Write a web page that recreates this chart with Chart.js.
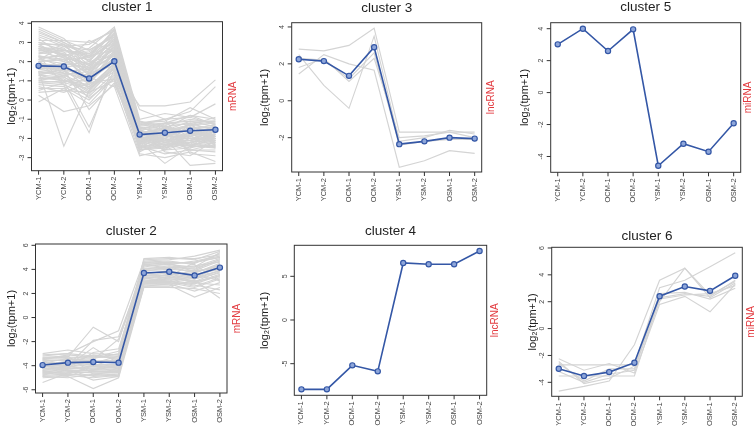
<!DOCTYPE html>
<html>
<head>
<meta charset="utf-8">
<script src="https://cdn.jsdelivr.net/npm/chart.js@4.4.1/dist/chart.umd.min.js"></script>
<style>
  html, body { margin: 0; padding: 0; background: #fff; }
  #app { position: relative; width: 754px; height: 426px; overflow: hidden; }
  #app canvas { position: absolute; left: 0; top: 0; }
</style>
</head>
<body>
<div id="app"></div>
<script>
// samples on the x axis
const samples = ["YCM-1", "YCM-2", "OCM-1", "OCM-2", "YSM-1", "YSM-2", "OSM-1", "OSM-2"];

// cluster means (blue line)
const cluster1Mean = [1.78, 1.75, 1.12, 2.02, -1.8, -1.7, -1.6, -1.55];
const cluster2Mean = [-3.95, -3.75, -3.7, -3.75, 3.7, 3.8, 3.5, 4.15];
const cluster3Mean = [2.25, 2.15, 1.35, 2.9, -2.35, -2.2, -2.0, -2.05];
const cluster4Mean = [-7.94, -7.94, -5.19, -5.88, 6.53, 6.38, 6.38, 7.9];
const cluster5Mean = [3.02, 4.0, 2.6, 3.96, -4.58, -3.2, -3.7, -1.92];
const cluster6Mean = [-2.99, -3.53, -3.24, -2.54, 2.41, 3.13, 2.81, 3.93];

// member genes (grey lines)
const cluster1Genes = [
  [3.8, 3.2, 2.0, 3.7, -1.2, -1.3, -1.0, -1.2],
  [3.5, 3.0, 2.4, 3.5, -1.4, -1.5, -0.8, -1.0],
  [3.3, 2.8, 2.6, 3.3, -1.5, -1.2, -1.3, -1.5],
  [3.1, 3.1, 3.0, 3.6, -1.1, -1.6, -1.4, -1.7],
  [3.0, 2.6, 2.2, 3.0, -1.6, -1.8, -1.5, -1.3],
  [2.9, 2.9, 1.8, 3.2, -1.3, -1.4, -1.7, -1.9],
  [2.8, 2.5, 2.5, 3.4, -1.8, -2.0, -1.2, -1.6],
  [2.7, 2.7, 1.5, 2.8, -2.0, -1.7, -1.9, -1.4],
  [2.6, 2.4, 2.1, 3.1, -1.7, -1.9, -2.0, -2.1],
  [2.5, 2.2, 1.9, 2.9, -1.9, -2.2, -1.8, -1.8],
  [2.4, 2.6, 2.3, 2.6, -2.2, -1.6, -1.6, -2.0],
  [2.3, 2.0, 1.6, 2.7, -2.1, -2.3, -2.1, -1.6],
  [2.2, 2.3, 1.3, 3.0, -2.3, -2.1, -2.3, -2.2],
  [2.1, 1.9, 1.7, 2.5, -1.6, -2.4, -2.2, -1.9],
  [2.0, 2.1, 1.4, 2.4, -2.4, -2.0, -1.4, -2.3],
  [1.9, 1.8, 2.0, 2.3, -1.4, -1.8, -2.4, -2.4],
  [1.8, 1.6, 1.2, 2.2, -2.5, -2.5, -2.0, -2.0],
  [1.7, 1.5, 0.9, 2.6, -2.0, -2.2, -2.5, -1.7],
  [1.6, 1.7, 1.0, 2.0, -2.6, -1.5, -1.7, -2.5],
  [1.5, 1.3, 0.7, 1.9, -1.9, -2.6, -2.2, -2.1],
  [1.4, 1.4, 1.1, 2.1, -2.2, -1.9, -1.5, -1.4],
  [1.3, 1.2, 0.5, 1.8, -2.4, -2.3, -2.6, -2.3],
  [1.2, 1.0, 0.8, 1.6, -1.5, -2.4, -1.9, -2.2],
  [1.1, 1.1, 0.3, 1.7, -2.3, -1.7, -2.3, -2.4],
  [1.0, 0.9, 0.6, 1.5, -2.6, -2.5, -1.8, -1.9],
  [0.9, 0.8, 0.2, 1.4, -2.1, -2.1, -2.4, -2.5],
  [0.8, 0.7, 0.0, 1.3, -1.7, -1.6, -1.1, -1.1],
  [0.6, 0.6, -0.2, 1.2, -2.5, -2.2, -2.1, -1.8],
  [0.4, 0.5, 0.4, 1.0, -2.0, -2.0, -2.6, -2.6],
  [0.25, -0.6, -0.3, 0.8, -1.8, -1.4, -2.0, -2.2],
  [-0.1, 0.6, 1.2, 0.7, -2.9, -2.6, -1.6, -2.0],
  [1.5, -2.4, 0.5, 1.9, -2.2, -3.3, -2.4, -1.6],
  [2.3, 0.8, -1.7, 2.0, -2.7, -2.0, -3.4, -3.3],
  [1.9, 1.0, -1.4, 1.6, -0.3, -0.3, -0.1, 1.05],
  [2.7, 2.0, 3.1, 2.5, -0.5, -1.0, -0.6, 0.7],
  [3.2, 2.3, 2.7, 3.8, -1.0, -0.7, -0.9, -0.2],
  [2.0, 1.4, 0.1, 1.1, -2.8, -3.0, -2.7, -3.2],
  [1.3, 1.6, -0.5, 0.9, -2.4, -2.8, -2.6, -2.7],
  [2.4, 2.9, 1.6, 3.5, -1.2, -1.1, -0.4, -1.0],
  [0.7, 0.4, 0.9, 1.1, -1.3, -1.0, -2.8, -2.9],
  [3.6, 3.0, 2.2, 3.7, -2.0, -1.8, -1.3, -0.9],
  [2.1, 2.4, 1.8, 2.9, -1.5, -2.7, -2.9, -2.1],
  [1.6, 1.9, 2.3, 3.2, -2.3, -1.2, -0.8, -1.3],
  [2.9, 2.2, 1.0, 2.4, -2.6, -2.4, -1.2, -2.4],
  [1.0, 1.3, 1.5, 2.7, -1.6, -1.3, -1.9, -1.5],
  [3.4, 2.9, 2.3, 3.6, -1.3, -1.2, -1.1, -1.4],
  [3.0, 2.8, 2.0, 3.3, -1.5, -1.6, -1.3, -1.2],
  [2.8, 2.3, 1.7, 3.0, -1.7, -1.5, -1.6, -1.5],
  [2.6, 2.6, 2.4, 3.4, -1.4, -1.9, -1.8, -1.7],
  [2.5, 2.5, 1.4, 2.8, -2.1, -1.8, -1.5, -1.9],
  [2.3, 2.1, 2.2, 3.1, -1.8, -2.1, -1.7, -2.0],
  [2.2, 1.7, 1.9, 2.6, -2.0, -2.3, -2.2, -1.8],
  [2.0, 2.2, 1.1, 2.9, -2.3, -1.9, -1.9, -2.2],
  [1.9, 1.5, 1.6, 2.3, -1.6, -2.2, -2.1, -2.3],
  [1.7, 1.9, 0.8, 2.5, -2.2, -2.0, -2.3, -1.6],
  [1.6, 1.4, 1.3, 2.1, -2.4, -2.4, -1.8, -2.1],
  [1.4, 1.6, 0.6, 1.9, -1.9, -1.7, -2.4, -2.4],
  [1.3, 1.0, 1.0, 2.2, -2.5, -2.1, -2.0, -2.0],
  [1.1, 1.2, 0.4, 1.7, -2.1, -2.6, -2.5, -2.2],
  [0.9, 1.0, 0.7, 1.6, -2.3, -1.8, -1.6, -1.7],
  [3.7, 3.1, 2.6, 3.4, -1.1, -1.4, -1.2, -1.1],
  [2.1, 2.8, 2.9, 3.7, -1.2, -1.0, -0.9, -1.3],
  [1.5, 1.2, 1.8, 2.4, -2.0, -2.5, -2.2, -2.5],
  [2.7, 2.4, 0.9, 2.2, -2.6, -2.3, -2.4, -2.0],
  [0.5, 0.9, 1.4, 1.8, -2.2, -1.6, -1.3, -1.9]
];
const cluster2Genes = [
  [-3.0, -2.7, -3.0, -3.1, 4.9, 5.0, 4.8, 5.5],
  [-3.2, -3.0, -2.0, -1.1, 4.7, 4.8, 5.1, 5.6],
  [-3.4, -3.3, -0.8, -2.0, 4.5, 4.6, 4.5, 5.3],
  [-3.5, -3.1, -3.3, -3.3, 4.3, 4.4, 4.7, 5.1],
  [-3.6, -3.5, -3.4, -3.0, 4.1, 4.2, 4.2, 4.9],
  [-3.7, -3.8, -3.1, -3.5, 3.9, 4.0, 3.9, 4.7],
  [-3.8, -3.4, -3.6, -3.6, 3.8, 3.6, 3.7, 4.5],
  [-3.9, -3.9, -3.8, -3.2, 3.6, 3.9, 3.4, 4.4],
  [-4.0, -4.0, -2.5, -3.8, 3.5, 3.7, 3.3, 4.2],
  [-4.1, -3.6, -4.0, -3.9, 3.4, 3.3, 3.6, 4.0],
  [-4.2, -4.1, -3.9, -4.0, 3.3, 3.5, 3.0, 3.8],
  [-4.3, -4.2, -4.1, -4.1, 3.2, 3.2, 3.2, 3.7],
  [-4.4, -4.3, -4.2, -4.2, 3.1, 3.1, 2.8, 3.5],
  [-4.5, -4.4, -4.4, -4.3, 3.0, 3.0, 2.6, 3.3],
  [-4.6, -4.6, -4.3, -4.4, 2.9, 2.9, 3.5, 3.1],
  [-4.7, -4.5, -4.6, -4.6, 2.8, 2.8, 2.2, 2.9],
  [-4.8, -4.7, -4.8, -4.7, 2.7, 2.7, 1.7, 2.5],
  [-4.9, -4.8, -5.0, -4.8, 2.6, 2.6, 3.1, 1.6],
  [-5.0, -4.9, -5.9, -5.0, 2.5, 2.5, 2.4, 2.0],
  [-5.4, -4.6, -4.5, -4.5, 3.0, 3.4, 2.9, 3.6],
  [-3.3, -3.2, -4.7, -4.9, 4.6, 4.7, 4.4, 3.0],
  [-4.4, -4.0, -1.9, -1.6, 4.0, 4.3, 4.0, 4.8],
  [-3.9, -3.7, -3.5, -1.8, 3.7, 3.4, 4.6, 5.0],
  [-4.6, -4.2, -2.9, -2.6, 4.2, 4.5, 3.8, 4.3],
  [-3.1, -3.0, -3.2, -3.4, 4.8, 4.9, 4.9, 5.2],
  [-4.2, -4.4, -5.2, -4.9, 3.3, 3.0, 2.7, 2.3],
  [-3.6, -4.1, -3.7, -3.7, 4.4, 4.1, 4.3, 4.6],
  [-4.8, -4.3, -4.0, -4.2, 2.9, 3.3, 3.3, 3.9],
  [-3.3, -3.4, -3.2, -3.2, 4.4, 4.5, 4.6, 5.0],
  [-3.5, -3.6, -3.7, -3.5, 4.0, 4.1, 4.1, 4.8],
  [-3.8, -3.7, -3.9, -3.9, 3.7, 3.8, 3.5, 4.3],
  [-4.0, -4.2, -4.3, -4.0, 3.5, 3.5, 3.9, 4.1],
  [-4.3, -4.0, -4.5, -4.4, 3.2, 3.6, 3.2, 3.9],
  [-4.5, -4.7, -4.0, -4.6, 3.0, 3.2, 3.0, 3.4],
  [-4.7, -4.4, -4.9, -4.8, 2.8, 2.9, 2.5, 3.2],
  [-3.4, -3.3, -3.3, -2.8, 4.6, 4.4, 4.2, 5.4],
  [-4.1, -3.9, -3.6, -4.3, 3.8, 4.2, 3.7, 4.4],
  [-4.9, -5.0, -4.7, -4.5, 2.6, 2.8, 2.9, 2.7]
];
const cluster3Genes = [
  [2.8, 2.7, 3.0, 3.93, -1.7, -1.7, -1.7, -1.7],
  [1.45, 2.5, 2.0, 1.65, -3.6, -3.25, -2.7, -2.85],
  [2.5, 0.83, -0.41, 3.5, -2.2, -2.0, -1.6, -1.8],
  [1.8, 2.3, 1.05, 2.3, -2.0, -1.9, -1.7, -2.0],
  [2.3, 2.2, 1.2, 2.6, -2.4, -2.2, -2.1, -2.1]
];
const cluster4Genes = [];
const cluster5Genes = [];
const cluster6Genes = [
  [-4.65, -4.3, -3.9, -1.2, 3.6, 4.5, 2.3, 3.4],
  [-2.7, -2.7, -2.7, -2.7, 3.05, 3.6, 4.6, 5.65],
  [-3.53, -3.53, -3.53, -3.53, 2.2, 2.5, 2.6, 3.2],
  [-2.25, -3.1, -2.6, -3.3, 1.8, 2.4, 1.25, 3.3],
  [-2.45, -4.1, -3.7, -2.8, 2.0, 4.5, 2.5, 3.5],
  [-2.6, -3.9, -3.0, -3.0, 2.6, 2.7, 2.2, 3.0],
  [-3.2, -4.0, -3.4, -3.1, 2.3, 2.6, 2.4, 3.6]
];

// y tick labels per panel
const cluster1Ticks = [-3, -2, -1, 0, 1, 2, 3, 4];
const cluster2Ticks = [-6, -4, -2, 0, 2, 4, 6];
const cluster3Ticks = [-2, 0, 2, 4];
const cluster4Ticks = [-5, 0, 5];
const cluster5Ticks = [-4, -2, 0, 2, 4];
const cluster6Ticks = [-4, -2, 0, 2, 4, 6];

// panel layout (page pixels) and axis ranges
const panels = [
  { title: "cluster 1", type: "mRNA", mean: cluster1Mean, genes: cluster1Genes, ticks: cluster1Ticks,
    box: [31.5, 21.7, 222.5, 170.7], yRange: [-3.68, 4.08], titleY: 7, yLabX: 12, typeX: 233 },
  { title: "cluster 2", type: "mRNA", mean: cluster2Mean, genes: cluster2Genes, ticks: cluster2Ticks,
    box: [35.5, 244, 227, 393], yRange: [-6.27, 6.11], titleY: 231, yLabX: 12, typeX: 237 },
  { title: "cluster 3", type: "lncRNA", mean: cluster3Mean, genes: cluster3Genes, ticks: cluster3Ticks,
    box: [291.7, 22.7, 481.7, 172], yRange: [-3.86, 4.23], titleY: 8, yLabX: 265, typeX: 491 },
  { title: "cluster 4", type: "lncRNA", mean: cluster4Mean, genes: cluster4Genes, ticks: cluster4Ticks,
    box: [294.3, 245.3, 486.7, 395.3], yRange: [-8.62, 8.55], titleY: 231, yLabX: 265, typeX: 495 },
  { title: "cluster 5", type: "miRNA", mean: cluster5Mean, genes: cluster5Genes, ticks: cluster5Ticks,
    box: [550.7, 22.7, 740.7, 172.3], yRange: [-4.99, 4.375], titleY: 7, yLabX: 525, typeX: 748 },
  { title: "cluster 6", type: "miRNA", mean: cluster6Mean, genes: cluster6Genes, ticks: cluster6Ticks,
    box: [551.7, 247.3, 742.3, 396.3], yRange: [-5.04, 6.05], titleY: 236, yLabX: 533, typeX: 751 }
];

const W = 754;
const H = 426;
const FONT = "'Liberation Sans', Arial, sans-serif";

// draws box, ticks, tick labels and panel texts from the chart's scales
const panelFrame = {
  id: "panelFrame",
  afterDraw(chart, args, opts) {
    const { ctx, chartArea: a, scales } = chart;
    const p = opts.panel;
    ctx.save();
    ctx.strokeStyle = "#333";
    ctx.lineWidth = 1;
    ctx.strokeRect(a.left, a.top, a.right - a.left, a.bottom - a.top);

    ctx.fillStyle = "#444";
    ctx.font = "7px " + FONT;
    p.ticks.forEach((v) => {
      const y = scales.y.getPixelForValue(v);
      ctx.beginPath();
      ctx.moveTo(a.left, y);
      ctx.lineTo(a.left - 4, y);
      ctx.stroke();
      ctx.save();
      ctx.translate(a.left - 6, y);
      ctx.rotate(-Math.PI / 2);
      ctx.textAlign = "center";
      ctx.textBaseline = "bottom";
      ctx.fillText(String(v), 0, 0);
      ctx.restore();
    });

    ctx.font = "7.5px " + FONT;
    samples.forEach((s, i) => {
      const x = scales.x.getPixelForValue(i + 1);
      ctx.beginPath();
      ctx.moveTo(x, a.bottom);
      ctx.lineTo(x, a.bottom + 4);
      ctx.stroke();
      ctx.save();
      ctx.translate(x, a.bottom + 6);
      ctx.rotate(-Math.PI / 2);
      ctx.textAlign = "right";
      ctx.textBaseline = "middle";
      ctx.fillText(s, 0, 0);
      ctx.restore();
    });

    const midY = (a.top + a.bottom) / 2;
    ctx.fillStyle = "#222";
    ctx.font = "13.5px " + FONT;
    ctx.textAlign = "center";
    ctx.textBaseline = "middle";
    ctx.fillText(p.title, (a.left + a.right) / 2, p.titleY);

    ctx.save();
    ctx.translate(p.yLabX, midY);
    ctx.rotate(-Math.PI / 2);
    ctx.font = "11px " + FONT;
    ctx.fillText("log\u2082(tpm+1)", 0, 0);
    ctx.restore();

    ctx.save();
    ctx.translate(p.typeX, midY);
    ctx.rotate(-Math.PI / 2);
    ctx.fillStyle = "#e23a3f";
    ctx.font = "10px " + FONT;
    ctx.fillText(p.type, 0, 0);
    ctx.restore();
    ctx.restore();
  }
};

const toPoints = (values) => values.map((v, i) => ({ x: i + 1, y: v }));

panels.forEach((p) => {
  const canvas = document.createElement("canvas");
  canvas.width = W;
  canvas.height = H;
  document.getElementById("app").appendChild(canvas);

  const datasets = p.genes.map((g) => ({
    data: toPoints(g),
    borderColor: "#d4d4d4",
    borderWidth: 1.15,
    pointRadius: 0,
    tension: 0,
    order: 1
  }));
  datasets.push({
    data: toPoints(p.mean),
    borderColor: "#3457a6",
    borderWidth: 1.6,
    pointRadius: 2.6,
    pointBorderWidth: 1.2,
    pointBorderColor: "#3457a6",
    pointBackgroundColor: "#8ea6da",
    tension: 0,
    order: 0
  });

  new Chart(canvas.getContext("2d"), {
    type: "line",
    data: { datasets: datasets },
    options: {
      responsive: false,
      animation: false,
      events: [],
      layout: {
        padding: { left: p.box[0], top: p.box[1], right: W - p.box[2], bottom: H - p.box[3] }
      },
      scales: {
        x: { type: "linear", min: 0.72, max: 8.28, display: false },
        y: { type: "linear", min: p.yRange[0], max: p.yRange[1], display: false }
      },
      plugins: {
        legend: { display: false },
        tooltip: { enabled: false },
        panelFrame: { panel: p }
      }
    },
    plugins: [panelFrame]
  });
});
</script>
</body>
</html>
